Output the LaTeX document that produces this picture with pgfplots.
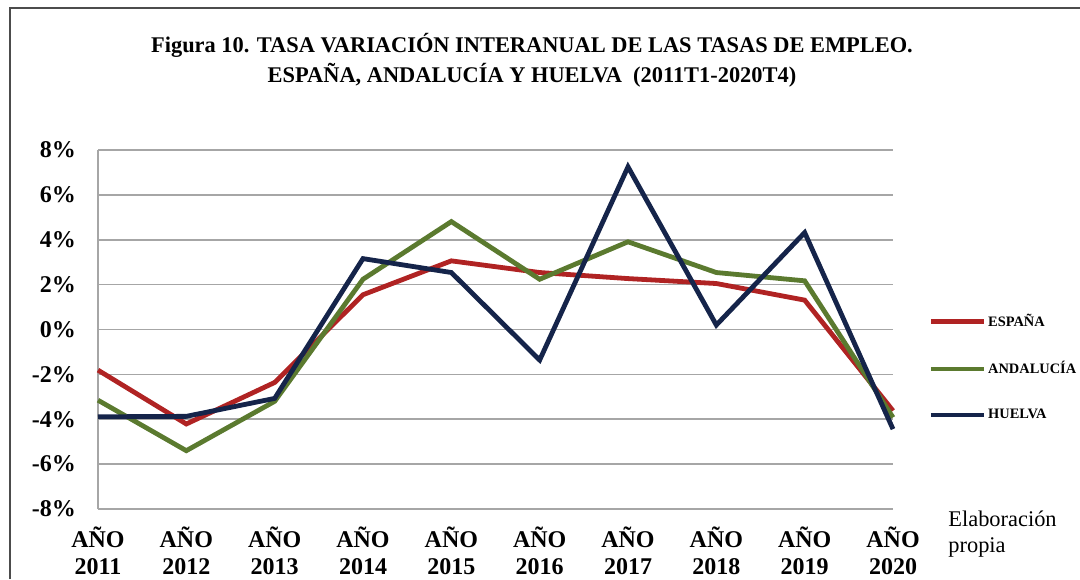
\documentclass[border=0pt]{standalone}
\usepackage{pgfplots}
\pgfplotsset{compat=1.18}
\usepackage{pgfplotstable}
\usepackage{fontspec}
\setmainfont{Liberation Serif}
\definecolor{cesp}{HTML}{B02323}
\definecolor{cand}{HTML}{5B7A2F}
\definecolor{chue}{HTML}{15244A}
\definecolor{cgrid}{HTML}{A6A6A6}
\pgfplotstableread{
x esp and hue
0 -1.81 -3.15 -3.89
1 -4.21 -5.40 -3.87
2 -2.36 -3.20 -3.07
3 1.55 2.24 3.16
4 3.06 4.81 2.54
5 2.54 2.24 -1.36
6 2.27 3.91 7.25
7 2.05 2.54 0.20
8 1.31 2.17 4.32
9 -3.62 -3.92 -4.44
}\datatable
\begin{document}
\begin{tikzpicture}
\useasboundingbox (0,0) rectangle (540pt,-289.5pt);
\draw[gray!60!black, line width=1pt] (5pt,-289.5pt) -- (5pt,-4pt) -- (540pt,-4pt);
\node[align=center, font=\bfseries\fontsize{11.2}{15}\selectfont] at (266pt,-30pt)
 {Figura 10. TASA VARIACIÓN INTERANUAL DE LAS TASAS DE EMPLEO.\\ESPAÑA, ANDALUCÍA Y HUELVA\ \ (2011T1-2020T4)};
\begin{axis}[
  at={(49pt,-254.5pt)}, anchor=south west,
  scale only axis, width=397.5pt, height=179.5pt,
  xmin=0, xmax=9, ymin=-8, ymax=8,
  xtick={0,...,9},
  xticklabels={{AÑO\\2011},{AÑO\\2012},{AÑO\\2013},{AÑO\\2014},{AÑO\\2015},{AÑO\\2016},{AÑO\\2017},{AÑO\\2018},{AÑO\\2019},{AÑO\\2020}},
  ytick={-8,-6,...,8},
  yticklabels={-8\%,-6\%,-4\%,-2\%,0\%,2\%,4\%,6\%,8\%},
  xticklabel style={align=center, font=\bfseries\fontsize{12}{13.5}\selectfont, yshift=-5.5pt},
  yticklabel style={font=\bfseries\fontsize{12}{13}\selectfont, xshift=-7.5pt},
  major tick length=0pt,
  ymajorgrids, grid style={cgrid, line width=0.8pt},
  axis x line*=bottom, axis y line*=left,
  axis line style={cgrid, line width=0.8pt, -},
  clip=false,
  legend style={at={(1.044,0.394)}, anchor=west, draw=none, fill=none,
    font=\bfseries\fontsize{7.2}{9}\selectfont, row sep=14pt, inner sep=0pt,
    nodes={inner sep=1pt}},
  legend cell align=left,
  legend image code/.code={\draw[#1, line width=2.4pt] (0pt,0pt) -- (26.5pt,0pt);},
]
\addplot[cesp, line width=2.4pt] table[x=x, y=esp] {\datatable};
\addlegendentry{ESPAÑA}
\addplot[cand, line width=2.4pt] table[x=x, y=and] {\datatable};
\addlegendentry{ANDALUCÍA}
\addplot[chue, line width=2.4pt] table[x=x, y=hue] {\datatable};
\addlegendentry{HUELVA}
\end{axis}
\node[anchor=north west, align=left, inner sep=0pt, font=\fontsize{11.2}{13}\selectfont] at (474pt,-255.5pt) {Elaboración\\propia};
\end{tikzpicture}
\end{document}
